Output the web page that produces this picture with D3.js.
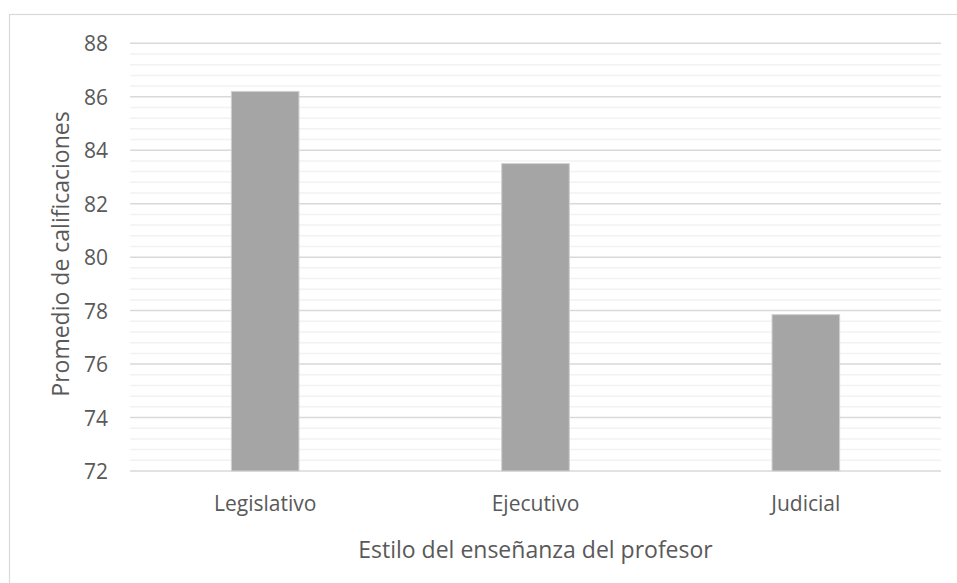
<!DOCTYPE html>
<html>
<head>
<meta charset="utf-8">
<script src="https://cdn.jsdelivr.net/npm/d3@7"></script>
<style>
  html, body { margin: 0; padding: 0; background: #fff; overflow: hidden; }
  svg { display: block; }
  text { font-family: "Open Sans", "Noto Sans", sans-serif; fill: #595959; }
</style>
</head>
<body>
<svg id="chart" width="957" height="583"></svg>
<script>
const categories = ["Legislativo", "Ejecutivo", "Judicial"];
const values = [86.2, 83.5, 77.85];
const yTicks = [72, 74, 76, 78, 80, 82, 84, 86, 88];
const xTitle = "Estilo del enseñanza del profesor";
const yTitle = "Promedio de calificaciones";

const svg = d3.select("#chart");
const W = 957, H = 583;
const m = { left: 130, right: 16, top: 43.3, bottom: 112 };

// chart frame (extends past the right and bottom edges of the picture)
svg.append("rect")
  .attr("x", 9.5).attr("y", 14.5)
  .attr("width", W + 20).attr("height", H + 20)
  .attr("fill", "#fff").attr("stroke", "#d9d9d9").attr("stroke-width", 1.2);

const x = d3.scaleBand().domain(categories).range([m.left, W - m.right]).padding(0);
const y = d3.scaleLinear().domain([72, 88]).range([471, m.top]);

// minor gridlines
const minor = d3.range(72, 88.0001, 0.4).filter(v => Math.abs(v / 2 - Math.round(v / 2)) > 1e-6);
svg.append("g").selectAll("line").data(minor).join("line")
  .attr("x1", m.left).attr("x2", W - m.right)
  .attr("y1", d => y(d)).attr("y2", d => y(d))
  .attr("stroke", "#f2f2f2").attr("stroke-width", 1.5);

// major gridlines
svg.append("g").selectAll("line").data(yTicks).join("line")
  .attr("x1", m.left).attr("x2", W - m.right)
  .attr("y1", d => y(d)).attr("y2", d => y(d))
  .attr("stroke", "#d9d9d9").attr("stroke-width", 1.5);

// bars
const bw = x.bandwidth() * 0.25;
svg.append("g").selectAll("rect").data(values).join("rect")
  .attr("x", (d, i) => x(categories[i]) + x.bandwidth() / 2 - bw / 2)
  .attr("width", bw)
  .attr("y", d => y(d))
  .attr("height", d => y(72) - y(d))
  .attr("fill", "#a5a5a5")
  .attr("stroke", "#d0d0d0").attr("stroke-width", 1);

// y tick labels
svg.append("g").selectAll("text").data(yTicks).join("text")
  .attr("x", 108).attr("y", d => y(d))
  .attr("text-anchor", "end").attr("dominant-baseline", "central")
  .attr("font-size", 21)
  .text(d => d);

// x tick labels
svg.append("g").selectAll("text").data(categories).join("text")
  .attr("x", d => x(d) + x.bandwidth() / 2).attr("y", 503)
  .attr("text-anchor", "middle").attr("dominant-baseline", "central")
  .attr("font-size", 21)
  .text(d => d);

// axis titles
svg.append("text")
  .attr("x", (m.left + W - m.right) / 2).attr("y", 549)
  .attr("text-anchor", "middle").attr("dominant-baseline", "central")
  .attr("font-size", 23)
  .text(xTitle);

svg.append("text")
  .attr("transform", `translate(60, 254) rotate(-90)`)
  .attr("text-anchor", "middle").attr("dominant-baseline", "central")
  .attr("font-size", 23)
  .text(yTitle);
</script>
</body>
</html>
